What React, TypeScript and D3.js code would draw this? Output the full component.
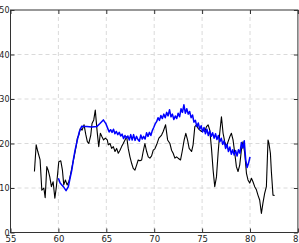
import React, { useEffect, useRef } from "react"
import * as d3 from "d3"

// tick values
const xTicks = [55, 60, 65, 70, 75, 80, 85]
const yTicks = [0, 10, 20, 30, 40, 50]

// black series
const blackX = [
    57.5, 57.68, 57.85, 58.09, 58.27, 58.48, 58.62, 58.79, 58.93, 59.1, 59.27, 59.45, 59.63, 59.79,
    60.04, 60.25, 60.42, 60.56, 60.73, 60.91, 61.08, 61.19, 61.43, 61.64, 61.88, 61.98, 62.13, 62.29,
    62.47, 62.68, 62.85, 63.02, 63.17, 63.38, 63.51, 63.69, 63.85, 64.03, 64.21, 64.38, 64.55, 64.72,
    64.9, 65.1, 65.21, 65.39, 65.56, 65.73, 65.91, 66.08, 66.25, 66.43, 66.6, 66.77, 66.95, 67.13,
    67.29, 67.47, 67.65, 67.81, 67.99, 68.17, 68.33, 68.51, 68.69, 68.85, 69.03, 69.21, 69.38, 69.55,
    69.73, 69.9, 70.07, 70.25, 70.49, 70.77, 70.94, 71.19, 71.4, 71.64, 71.81, 71.98, 72.16, 72.33,
    72.5, 72.75, 72.92, 73.13, 73.3, 73.48, 73.65, 73.9, 74.06, 74.24, 74.42, 74.58, 74.76, 74.94,
    75.1, 75.28, 75.46, 75.63, 75.8, 75.98, 76.15, 76.32, 76.5, 76.67, 76.84, 77.02, 77.19, 77.36,
    77.54, 77.71, 77.89, 78.06, 78.23, 78.41, 78.58, 78.75, 78.93, 79.1, 79.27, 79.45, 79.63, 79.79,
    79.97, 80.15, 80.31, 80.49, 80.67, 80.83, 81.01, 81.19, 81.35, 81.53, 81.71, 81.88, 81.98, 82.13,
    82.23, 82.4, 82.57
]
const blackY = [
    13.7, 19.7, 18.2, 16.3, 9.5, 10.0, 7.8, 14.8, 14.0, 12.5, 10.3, 11.4, 7.7, 10.3,
    15.9, 16.1, 14.0, 10.7, 11.8, 10.7, 11.4, 12.2, 14.8, 17.0, 19.7, 21.2, 21.9, 23.4,
    23.0, 24.2, 22.1, 20.4, 20.0, 21.9, 24.5, 25.3, 27.5, 23.0, 19.3, 22.3, 21.5, 20.8,
    21.2, 20.8, 19.7, 20.0, 18.9, 19.3, 18.2, 18.9, 17.8, 18.5, 19.3, 20.0, 20.8, 21.5,
    18.9, 17.0, 15.5, 14.4, 14.0, 15.2, 16.3, 16.1, 16.3, 18.2, 20.0, 18.2, 17.0, 16.7,
    17.2, 18.5, 18.8, 19.7, 21.2, 21.9, 22.7, 24.2, 20.8, 20.0, 18.5, 17.8, 16.7, 17.0,
    16.7, 16.3, 18.2, 20.8, 22.3, 20.8, 18.9, 18.2, 19.7, 23.8, 24.2, 23.4, 23.0, 22.7,
    23.0, 22.7, 23.8, 24.2, 23.0, 18.9, 14.0, 10.3, 12.5, 17.8, 22.3, 26.0, 22.3, 20.4,
    19.3, 20.4, 21.5, 22.3, 20.8, 17.8, 14.8, 13.7, 15.2, 18.5, 20.4, 17.8, 13.3, 11.8,
    11.1, 12.2, 11.4, 10.3, 9.6, 8.4, 7.3, 4.3, 6.6, 8.8, 10.3, 20.8, 20.0, 17.8,
    13.7, 8.4, 8.3
]

// blue series
const blueX = [
    60.0, 60.18, 60.52, 60.8, 61.04, 61.22, 61.4, 61.56, 61.74, 61.98, 62.19, 62.44, 62.68, 62.96,
    63.48, 64.0, 64.34, 64.69, 64.97,
    65.15, 65.3, 65.45, 65.6, 65.75, 65.9, 66.05, 66.2, 66.35, 66.5, 66.65, 66.8, 66.95, 67.1,
    67.25, 67.4, 67.55, 67.7, 67.85, 68.0, 68.15, 68.3, 68.45, 68.6, 68.75, 68.9, 69.05, 69.2,
    69.35, 69.5, 69.65, 69.8, 69.95, 70.1, 70.25, 70.4, 70.55, 70.7, 70.85, 71.0, 71.15, 71.3,
    71.45, 71.6, 71.75, 71.9, 72.05, 72.2, 72.35, 72.5, 72.65, 72.8, 72.95, 73.1, 73.25, 73.4,
    73.55, 73.7, 73.85, 74.0, 74.15, 74.3, 74.45, 74.6, 74.75, 74.9, 75.05, 75.2, 75.35, 75.5,
    75.65, 75.8, 75.95, 76.1, 76.25, 76.4, 76.55, 76.7, 76.85, 77.0, 77.15, 77.3, 77.45, 77.6,
    77.75, 77.9, 78.05, 78.2, 78.35, 78.5, 78.65, 78.8, 78.95, 79.1, 79.25, 79.4, 79.55, 79.7,
    79.85, 80.0
]
const blueY = [
    12.2, 11.1, 10.3, 9.4, 10.3, 12.2, 14.0, 16.3, 18.5, 20.8, 22.7, 23.9, 23.8, 23.8,
    23.7, 23.8, 24.5, 25.3, 24.4,
    23.4, 22.6, 23.1, 22.5, 23.2, 22.2, 22.7, 22.0, 22.5, 21.7, 22.1, 21.1, 21.8, 21.2,
    21.7, 20.8, 22.0, 20.8, 22.0, 20.7, 21.6, 20.9, 20.5, 21.9, 21.0, 21.6, 21.0, 22.4,
    21.6, 22.5, 21.8, 22.9, 23.6, 24.4, 24.9, 25.8, 25.2, 26.3, 25.6, 26.6, 25.8, 27.0,
    26.2, 27.6, 26.0, 26.6, 25.4, 26.2, 25.6, 26.8, 26.0, 27.8, 27.0, 28.7, 26.8, 27.8,
    26.6, 27.2, 25.8, 26.4, 24.8, 25.2, 23.8, 24.6, 23.2, 24.0, 22.6, 23.6, 22.2, 23.2,
    21.8, 22.8, 21.6, 22.4, 21.2, 22.2, 20.9, 21.8, 20.4, 21.2, 19.8, 20.6, 18.9, 19.8,
    18.2, 19.2, 17.6, 18.6, 17.4, 18.4, 17.2, 18.6, 17.8, 20.2, 19.0, 20.6, 16.4, 14.6,
    15.6, 17.0
]

const W = 299
const H = 243

export default function App() {
    const ref = useRef<SVGSVGElement>(null)

    useEffect(() => {
        const svg = d3.select(ref.current)
        svg.selectAll("*").remove()

        const left = 10.5, right = 297.9, top = 10, bottom = 232.5

        const xScale = d3.scaleLinear().domain([55, 85]).range([left, right])
        const yScale = d3.scaleLinear().domain([0, 50]).range([bottom, top])

        // dashed grid
        const grid = svg.append("g").attr("class", "grid")
        grid.selectAll("line.gx")
            .data(xTicks.slice(1, -1))
            .enter()
            .append("line")
            .attr("x1", d => xScale(d))
            .attr("x2", d => xScale(d))
            .attr("y1", top)
            .attr("y2", bottom)
        grid.selectAll("line.gy")
            .data(yTicks.slice(1, -1))
            .enter()
            .append("line")
            .attr("x1", left)
            .attr("x2", right)
            .attr("y1", d => yScale(d))
            .attr("y2", d => yScale(d))
        grid.selectAll("line")
            .attr("stroke", "#dadada")
            .attr("stroke-width", 1)
            .attr("stroke-dasharray", "4,3")

        const blackPts: [number, number][] = blackX.map((x, i) => [xScale(x), yScale(blackY[i])])
        const bluePts: [number, number][] = blueX.map((x, i) => [xScale(x), yScale(blueY[i])])
        const path = d3.line()

        svg.append("path")
            .attr("d", path(blackPts))
            .attr("fill", "none")
            .attr("stroke", "#000")
            .attr("stroke-width", 1.1)
            .attr("stroke-linejoin", "round")

        svg.append("path")
            .attr("d", path(bluePts))
            .attr("fill", "none")
            .attr("stroke", "#0000ff")
            .attr("stroke-width", 1.5)
            .attr("stroke-linejoin", "round")

        // axes, ticks pointing inward
        const styleAxis = (size: string) => (g: any) => {
            g.select(".domain").remove()
            g.selectAll(".tick line").attr("stroke", "#333")
            g.selectAll(".tick text")
                .attr("fill", "#222")
                .style("font-family", "DejaVu Sans")
                .style("font-size", size)
        }

        svg.append("g")
            .attr("transform", "translate(0," + bottom + ")")
            .call(d3.axisBottom(xScale).tickValues(xTicks).tickSize(-4).tickPadding(3))
            .call(styleAxis("8.5px"))

        svg.append("g")
            .attr("transform", "translate(" + left + ",0)")
            .call(d3.axisLeft(yScale).tickValues(yTicks).tickSize(-4).tickPadding(1))
            .call(styleAxis("8px"))

        svg.append("g")
            .attr("transform", "translate(0," + top + ")")
            .call(d3.axisTop(xScale).tickValues(xTicks).tickSize(-4).tickFormat(() => ""))
            .call(styleAxis("8px"))

        svg.append("g")
            .attr("transform", "translate(" + right + ",0)")
            .call(d3.axisRight(yScale).tickValues(yTicks).tickSize(-4).tickFormat(() => ""))
            .call(styleAxis("8px"))

        svg.append("rect")
            .attr("x", left)
            .attr("y", top)
            .attr("width", right - left)
            .attr("height", bottom - top)
            .attr("fill", "none")
            .attr("stroke", "#333")
            .attr("stroke-width", 1)
    }, [])

    return (
        <svg
            ref={ref}
            width={W}
            height={H}
            style={{ position: "fixed", left: 0, top: 0, background: "#fff" }}
        />
    )
}
